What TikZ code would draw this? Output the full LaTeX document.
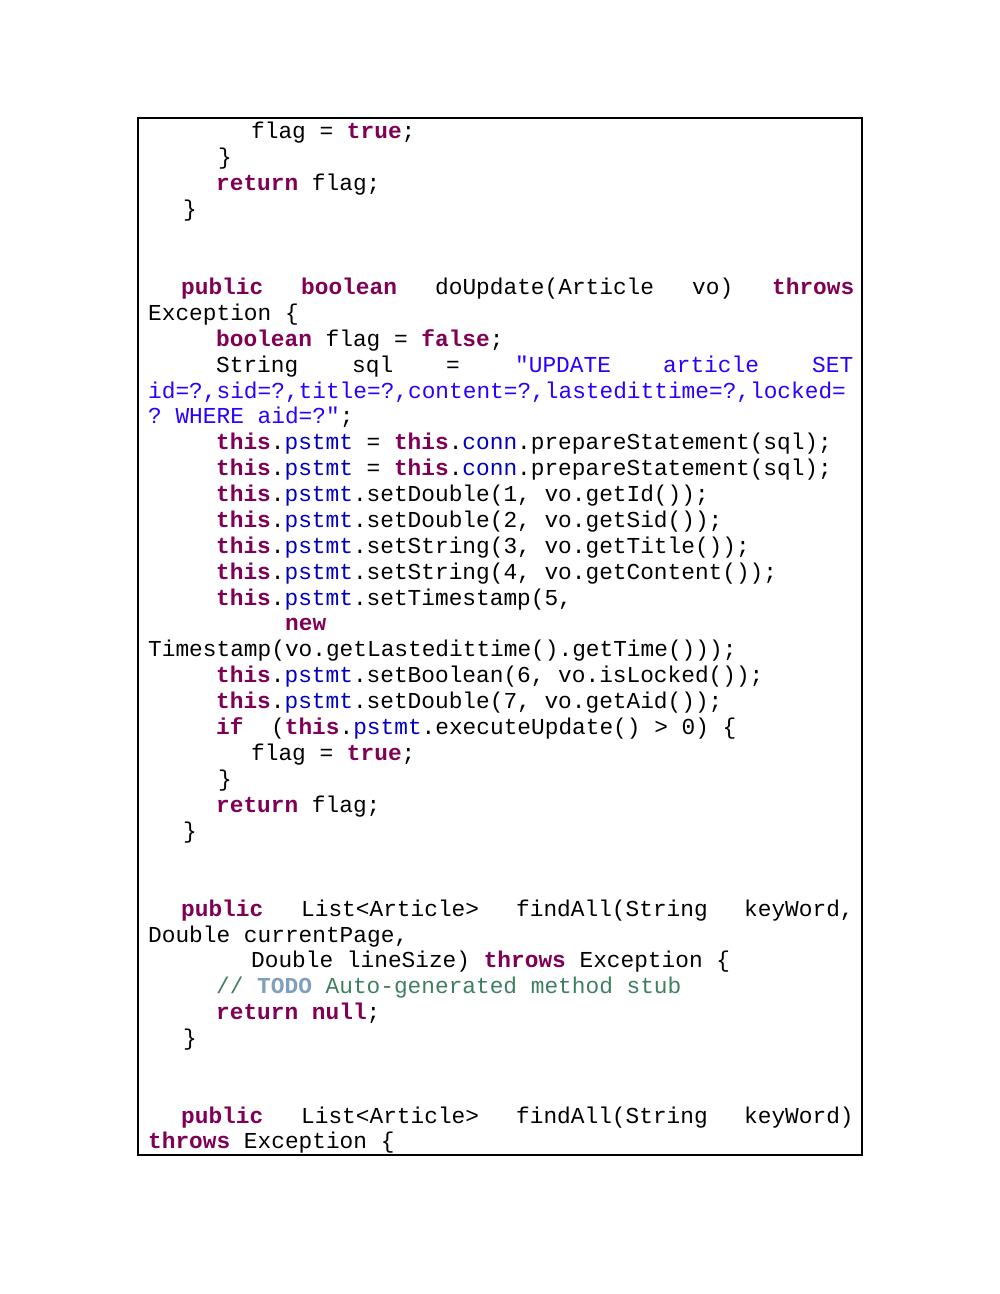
\documentclass[tikz,border=0pt]{standalone}
\usepackage{fontspec}
\setmonofont{Liberation Mono}
\definecolor{kw}{HTML}{7F0055}
\definecolor{fld}{HTML}{0000C0}
\definecolor{str}{HTML}{2A00FF}
\definecolor{cmt}{HTML}{3F7F5F}
\definecolor{todo}{HTML}{7F9FBF}
\newcommand\kw[1]{\textcolor{kw}{\textbf{#1}}}
\newcommand\fd[1]{\textcolor{fld}{#1}}
\newcommand\st[1]{\textcolor{str}{#1}}
\begin{document}
\begin{tikzpicture}[x=1pt,y=-1pt,
  code/.style={anchor=mid west,inner sep=0pt,font=\fontsize{22.8}{26}\ttfamily}]
\useasboundingbox (0,0) rectangle (1000,1294);
\draw[line width=1.2pt] (138,118) rectangle (862,1155);
\begin{scope}[shift={(0,5)}]
\node[code] (l1) at (251,131) {flag = \kw{true};};
\node[code] (l2) at (218,157) {\}};
\node[code] (l3) at (216,183) {\kw{return} flag;};
\node[code] (l4) at (183,209) {\}};
\node[code] (a1) at (181,287) {\kw{public}};
\node[code] (a2) at (301,287) {\kw{boolean}};
\node[code] (a3) at (435,287) {doUpdate(Article};
\node[code] (a4) at (692,287) {vo)};
\node[code] (a5) at (772,287) {\kw{throws}};
\node[code] (l6) at (148,313) {Exception \{};
\node[code] (l7) at (216,339) {\kw{boolean} flag = \kw{false};};
\node[code] (b1) at (216,365) {String};
\node[code] (b2) at (352,365) {sql};
\node[code] (b3) at (446,365) {=};
\node[code] (b4) at (515,365) {\st{"UPDATE}};
\node[code] (b5) at (663,365) {\st{article}};
\node[code] (b6) at (812,365) {\st{SET}};
\node[code] (l9) at (148,391) {\st{id=?,sid=?,title=?,content=?,lastedittime=?,locked=}};
\node[code] (l10) at (148,416) {\st{? WHERE aid=?"};};
\node[code] (l11) at (216,442) {\kw{this}.\fd{pstmt} = \kw{this}.\fd{conn}.prepareStatement(sql);};
\node[code] (l12) at (216,468) {\kw{this}.\fd{pstmt} = \kw{this}.\fd{conn}.prepareStatement(sql);};
\node[code] (l13) at (216,494) {\kw{this}.\fd{pstmt}.setDouble(1, vo.getId());};
\node[code] (l14) at (216,520) {\kw{this}.\fd{pstmt}.setDouble(2, vo.getSid());};
\node[code] (l15) at (216,546) {\kw{this}.\fd{pstmt}.setString(3, vo.getTitle());};
\node[code] (l16) at (216,572) {\kw{this}.\fd{pstmt}.setString(4, vo.getContent());};
\node[code] (l17) at (216,598) {\kw{this}.\fd{pstmt}.setTimestamp(5,};
\node[code] (l18) at (285,623) {\kw{new}};
\node[code] (l19) at (148,649) {Timestamp(vo.getLastedittime().getTime()));};
\node[code] (l20) at (216,675) {\kw{this}.\fd{pstmt}.setBoolean(6, vo.isLocked());};
\node[code] (l21) at (216,701) {\kw{this}.\fd{pstmt}.setDouble(7, vo.getAid());};
\node[code] (l22a) at (216,727) {\kw{if}};
\node[code] (l22b) at (271,727) {(\kw{this}.\fd{pstmt}.executeUpdate() > 0) \{};
\node[code] (l23) at (251,753) {flag = \kw{true};};
\node[code] (l24) at (218,779) {\}};
\node[code] (l25) at (216,805) {\kw{return} flag;};
\node[code] (l26) at (183,831) {\}};
\node[code] (c1) at (181,909) {\kw{public}};
\node[code] (c2) at (301,909) {List<Article>};
\node[code] (c3) at (516,909) {findAll(String};
\node[code] (c4) at (744,909) {keyWord,};
\node[code] (l28) at (148,935) {Double currentPage,};
\node[code] (l29) at (251,960) {Double lineSize) \kw{throws} Exception \{};
\node[code] (l30) at (216,986) {\textcolor{cmt}{// \textcolor{todo}{\textbf{TODO}} Auto-generated method stub}};
\node[code] (l31) at (216,1012) {\kw{return} \kw{null};};
\node[code] (l32) at (183,1038) {\}};
\node[code] (d1) at (181,1116) {\kw{public}};
\node[code] (d2) at (301,1116) {List<Article>};
\node[code] (d3) at (516,1116) {findAll(String};
\node[code] (d4) at (744,1116) {keyWord)};
\node[code] (l34) at (148,1141) {\kw{throws} Exception \{};
\end{scope}
\end{tikzpicture}
\end{document}
